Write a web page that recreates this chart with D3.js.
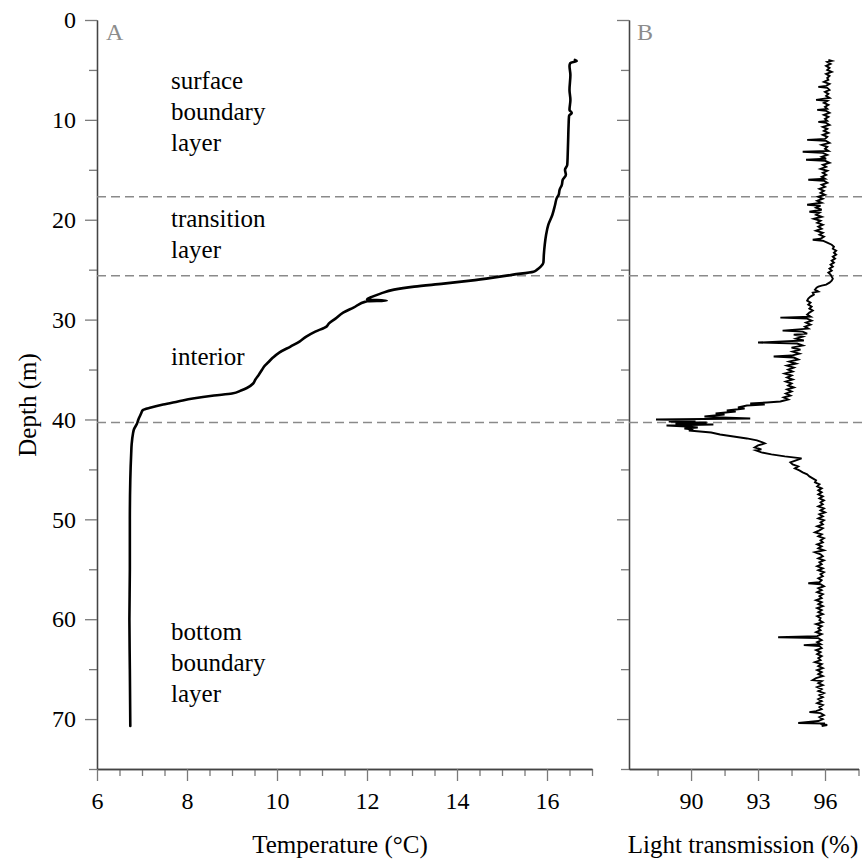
<!DOCTYPE html>
<html>
<head>
<meta charset="utf-8">
<script src="https://cdn.jsdelivr.net/npm/d3@7"></script>
<style>
  html, body { margin: 0; padding: 0; background: #fff; }
  svg { display: block; font-family: "Liberation Serif", "Times New Roman", serif; }
</style>
</head>
<body>
<svg id="chart" width="864" height="861"></svg>
<script>
// Temperature profile: [depth (m), temperature (°C)]
const temperatureProfile = [
  [4.0,16.62],[4.1,16.66],[4.3,16.52],[4.6,16.5],[5.5,16.52],[7.0,16.5],[8.0,16.52],
  [9.0,16.5],[9.3,16.55],[9.6,16.49],[10.5,16.48],[12.0,16.47],[13.5,16.46],[14.5,16.45],
  [15.0,16.4],[15.5,16.42],[16.0,16.35],[16.5,16.33],[17.0,16.28],[17.5,16.26],[17.8,16.22],
  [18.5,16.18],[19.5,16.12],[20.5,16.03],[21.5,15.98],[22.5,15.95],[23.5,15.93],[24.3,15.92],
  [24.7,15.86],[25.0,15.78],[25.2,15.7],[25.5,15.25],[25.8,14.8],[26.1,14.3],[26.4,13.7],
  [26.7,13.05],[27.0,12.6],[27.4,12.3],[27.7,12.12],[28.0,12.0],[28.1,12.44],[28.15,12.0],
  [28.8,11.7],[29.3,11.47],[29.9,11.3],[30.4,11.15],[30.7,11.1],[31.2,10.85],[31.7,10.65],
  [32.2,10.5],[32.7,10.3],[33.3,10.05],[33.8,9.91],[34.3,9.8],[34.6,9.73],[35.0,9.67],
  [35.5,9.6],[36.0,9.52],[36.4,9.47],[36.85,9.33],[37.1,9.2],[37.4,9.0],[37.6,8.6],
  [37.9,8.13],[38.2,7.8],[38.5,7.47],[38.8,7.2],[39.05,7.02],[39.4,6.98],[39.6,6.96],
  [40.0,6.92],[40.4,6.89],[41.0,6.82],[41.4,6.8],[42.5,6.77],[43.4,6.76],[46.0,6.74],
  [50.0,6.73],[55.0,6.73],[60.0,6.72],[65.0,6.73],[70.7,6.74]
];

// Light transmission profile: [depth (m), transmission (%)]
const transmissionProfile = [
  [4.0,96.15],[4.1,96.3],[4.2,96.1],[4.4,96.25],[4.6,96.05],[4.8,96.2],[5.0,96.1],[5.2,96.3],
  [5.4,96.05],[5.6,96.2],[5.8,96.1],[6.0,96.15],[6.2,95.95],[6.4,96.2],[6.6,96.05],[6.7,95.7],
  [6.8,96.1],[7.0,96.2],[7.2,96.0],[7.4,96.15],[7.6,96.05],[7.8,96.2],[8.0,95.6],[8.1,96.1],
  [8.3,95.95],[8.5,96.15],[8.7,96.0],[8.9,96.1],[9.0,95.65],[9.1,96.05],[9.3,96.2],[9.5,95.95],
  [9.7,96.15],[9.9,96.0],[10.1,96.1],[10.2,95.7],[10.3,96.05],[10.5,96.2],[10.7,95.9],[10.9,96.1],
  [11.1,95.95],[11.3,96.15],[11.5,95.9],[11.7,96.1],[11.9,96.0],[12.0,95.2],[12.1,96.05],[12.3,96.2],
  [12.5,95.85],[12.7,96.1],[12.9,96.0],[13.1,96.15],[13.2,95.0],[13.3,95.9],[13.5,96.1],[13.7,95.85],
  [13.9,96.05],[14.0,95.15],[14.1,96.0],[14.3,96.2],[14.5,95.9],[14.7,96.05],[14.9,95.8],[15.1,96.1],
  [15.3,95.9],[15.5,96.05],[15.7,95.85],[15.9,96.0],[16.0,95.25],[16.1,95.95],[16.3,96.1],[16.5,95.85],
  [16.7,96.0],[16.9,95.75],[17.1,95.95],[17.3,95.8],[17.5,96.0],[17.7,95.7],[17.9,95.9],[18.1,95.65],
  [18.3,95.85],[18.5,95.2],[18.6,95.8],[18.8,95.6],[19.0,95.85],[19.2,95.3],[19.3,95.75],[19.5,95.6],
  [19.7,95.85],[19.9,95.5],[20.1,95.8],[20.3,95.65],[20.5,95.9],[20.7,95.7],[20.9,95.85],[21.1,95.6],
  [21.3,95.9],[21.5,95.75],[21.7,95.95],[21.9,95.8],[22.0,95.45],[22.1,95.9],[22.3,96.1],[22.5,96.3],
  [22.7,96.4],[22.9,96.35],[23.1,96.5],[23.3,96.4],[23.5,96.5],[23.7,96.35],[23.9,96.45],[24.1,96.3],
  [24.3,96.4],[24.5,96.25],[24.7,96.35],[24.9,96.2],[25.1,96.3],[25.3,96.15],[25.5,96.25],[25.7,96.3],
  [25.9,96.35],[26.1,96.3],[26.3,96.2],[26.5,96.05],[26.6,95.85],[26.7,95.7],[26.8,95.62],[27.0,95.55],
  [27.2,95.7],[27.3,95.45],[27.5,95.5],[27.7,95.35],[27.9,95.25],[28.1,95.2],[28.3,95.35],[28.5,95.25],
  [28.7,95.4],[28.9,95.3],[29.1,95.45],[29.3,95.3],[29.5,95.2],[29.7,95.35],[29.8,94.0],[29.9,95.2],
  [30.1,95.4],[30.3,95.15],[30.5,95.35],[30.7,95.1],[30.9,95.25],[31.1,94.1],[31.2,95.0],[31.4,95.2],
  [31.5,94.6],[31.7,95.0],[31.9,94.7],[32.1,95.05],[32.3,93.0],[32.4,94.75],[32.6,95.0],[32.8,94.5],
  [33.0,94.9],[33.2,94.55],[33.4,94.85],[33.6,94.5],[33.7,93.7],[33.8,94.6],[34.0,94.8],[34.2,94.4],
  [34.4,94.7],[34.6,94.3],[34.8,94.6],[35.0,94.35],[35.2,94.55],[35.4,94.2],[35.6,94.5],[35.8,94.3],
  [36.0,94.55],[36.2,94.25],[36.4,94.5],[36.6,94.35],[36.8,94.6],[37.0,94.3],[37.2,94.5],[37.4,94.25],
  [37.6,94.45],[37.8,94.15],[38.0,94.35],[38.2,94.0],[38.3,93.4],[38.4,92.65],[38.5,93.3],[38.6,92.5],
  [38.8,92.1],[38.9,92.4],[39.1,91.6],[39.2,92.0],[39.4,91.1],[39.5,91.5],[39.7,90.6],[39.8,91.4],
  [39.9,92.65],[40.0,88.43],[40.1,90.2],[40.2,89.0],[40.3,90.7],[40.4,89.3],[40.5,91.0],[40.6,88.9],
  [40.7,89.8],[40.8,90.3],[40.9,89.7],[41.0,90.1],[41.1,89.9],[41.2,90.4],[41.3,90.9],[41.5,91.3],
  [41.7,91.9],[41.9,92.5],[42.1,92.95],[42.3,93.2],[42.4,93.3],[42.6,93.0],[42.8,92.85],[43.0,93.15],
  [43.1,92.9],[43.3,93.15],[43.5,93.6],[43.7,94.2],[43.9,94.95],[44.1,94.7],[44.3,94.45],[44.5,94.55],
  [44.7,94.8],[44.9,94.65],[45.1,94.85],[45.3,95.0],[45.5,95.2],[45.7,95.3],[45.9,95.45],[46.1,95.6],
  [46.3,95.55],[46.5,95.75],[46.7,95.65],[46.9,95.85],[47.1,95.7],[47.3,95.85],[47.5,95.7],[47.7,95.9],
  [47.9,95.75],[48.1,95.95],[48.3,95.8],[48.5,95.9],[48.7,95.7],[48.9,95.95],[49.1,95.8],[49.3,96.0],
  [49.5,95.75],[49.7,95.9],[49.9,95.7],[50.1,95.95],[50.3,95.8],[50.5,95.9],[50.7,95.65],[50.9,95.9],
  [51.1,95.75],[51.3,95.55],[51.5,95.85],[51.7,95.7],[51.9,95.95],[52.1,95.8],[52.3,95.9],[52.5,95.65],
  [52.7,95.85],[52.9,95.7],[53.1,95.95],[53.3,95.55],[53.5,95.8],[53.7,95.9],[53.9,95.7],[54.1,95.95],
  [54.3,95.75],[54.5,95.85],[54.7,95.65],[54.9,95.9],[55.1,95.7],[55.3,95.95],[55.5,95.8],[55.7,95.9],
  [55.9,95.7],[56.1,95.85],[56.3,95.75],[56.4,95.25],[56.5,95.8],[56.7,95.95],[56.9,95.7],[57.1,95.85],
  [57.3,95.65],[57.5,95.9],[57.7,95.75],[57.9,95.85],[58.1,95.6],[58.3,95.85],[58.5,95.7],[58.7,95.9],
  [58.9,95.65],[59.1,95.85],[59.3,95.7],[59.5,95.9],[59.7,95.65],[59.9,95.8],[60.1,95.75],[60.3,95.9],
  [60.5,95.6],[60.7,95.85],[60.9,95.7],[61.1,95.8],[61.3,95.6],[61.5,95.85],[61.7,95.65],[61.8,93.9],
  [61.9,95.7],[62.1,95.85],[62.3,95.65],[62.5,95.8],[62.6,95.05],[62.7,95.75],[62.9,95.85],[63.1,95.6],
  [63.3,95.8],[63.5,95.65],[63.7,95.85],[63.9,95.7],[64.1,95.8],[64.3,95.55],[64.5,95.85],[64.7,95.7],
  [64.9,95.9],[65.1,95.65],[65.3,95.85],[65.5,95.7],[65.7,95.9],[65.9,95.6],[66.1,95.45],[66.2,95.85],
  [66.4,95.7],[66.6,95.9],[66.8,95.65],[67.0,95.85],[67.2,95.7],[67.4,95.95],[67.6,95.75],[67.8,95.9],
  [68.0,95.7],[68.2,95.85],[68.4,95.65],[68.6,95.9],[68.8,95.75],[69.0,95.85],[69.2,95.6],[69.3,95.3],
  [69.4,95.8],[69.6,95.95],[69.8,95.75],[70.0,95.9],[70.2,95.7],[70.4,94.8],[70.45,96.0],[70.5,95.8],
  [70.6,96.1],[70.7,95.85]
];

// Layer boundaries (m)
const layerBoundaries = [17.7, 25.6, 40.3];

// Layer annotations: lines of text and the depth of the first line's baseline
const layerLabels = [
  { lines: ["surface", "boundary", "layer"], depth: 6.9 },
  { lines: ["transition", "layer"], depth: 20.7 },
  { lines: ["interior"], depth: 34.55 },
  { lines: ["bottom", "boundary", "layer"], depth: 62.1 }
];

const depthTicks = d3.range(0, 80, 5);
const tempTicks = d3.range(6, 17.01, 0.5);
const transTicks = [88.5, 90, 91.5, 93, 94.5, 96, 97.5];

const svg = d3.select("#chart");

const y = d3.scaleLinear().domain([0, 75]).range([20, 769]);
const xA = d3.scaleLinear().domain([6, 17]).range([97, 592]);
const xB = d3.scaleLinear().domain([87.22, 97.5]).range([629, 858.5]);

const axisColor = "#444";
const tickColor = "#7a7a7a";
const fontSize = 24;

function styleAxis(g) {
  g.select(".domain").attr("stroke", axisColor).attr("stroke-width", 1.3);
  g.selectAll(".tick line").attr("stroke", tickColor).attr("stroke-width", 1.3);
  g.selectAll(".tick text").attr("fill", "#000").attr("font-size", fontSize)
    .attr("font-family", "Liberation Serif, Times New Roman, serif");
}

function isMajor(v, step) { return Math.abs(v / step - Math.round(v / step)) < 1e-6; }

function drawDepthAxis(xPos, withLabels) {
  const minor = svg.append("g").attr("transform", `translate(${xPos},0)`)
    .call(d3.axisLeft(y).tickValues(depthTicks.filter(d => !isMajor(d, 10)))
      .tickSize(8).tickSizeOuter(0).tickFormat(""));
  styleAxis(minor);
  const major = svg.append("g").attr("transform", `translate(${xPos},0)`)
    .call(d3.axisLeft(y).tickValues(depthTicks.filter(d => isMajor(d, 10)))
      .tickSize(12).tickSizeOuter(0).tickPadding(9)
      .tickFormat(withLabels ? d3.format("d") : ""));
  styleAxis(major);
}

function drawValueAxis(scale, ticks, labelled) {
  const minor = svg.append("g").attr("transform", `translate(0,${y(75)})`)
    .call(d3.axisBottom(scale).tickValues(ticks.filter(t => !labelled(t)))
      .tickSize(7).tickSizeOuter(0).tickFormat(""));
  styleAxis(minor);
  const major = svg.append("g").attr("transform", `translate(0,${y(75)})`)
    .call(d3.axisBottom(scale).tickValues(ticks.filter(t => labelled(t)))
      .tickSize(12).tickSizeOuter(0).tickPadding(11).tickFormat(d3.format("d")));
  styleAxis(major);
}

drawDepthAxis(xA(6), true);
drawDepthAxis(xB(87.22), false);
drawValueAxis(xA, tempTicks, t => isMajor(t, 2));
drawValueAxis(xB, transTicks, t => isMajor(t, 3));

// Layer boundary lines across both panels
svg.append("g").selectAll("line").data(layerBoundaries).join("line")
  .attr("x1", xA(6)).attr("x2", 864)
  .attr("y1", d => y(d)).attr("y2", d => y(d))
  .attr("stroke", "#8a8a8a").attr("stroke-width", 1.5)
  .attr("stroke-dasharray", "9,5");

// Profiles
svg.append("path").datum(temperatureProfile)
  .attr("fill", "none").attr("stroke", "#000").attr("stroke-width", 2.6)
  .attr("stroke-linejoin", "round").attr("stroke-linecap", "round")
  .attr("d", d3.line().curve(d3.curveMonotoneY).x(d => xA(d[1])).y(d => y(d[0])));

svg.append("path").datum(transmissionProfile)
  .attr("fill", "none").attr("stroke", "#000").attr("stroke-width", 1.9)
  .attr("stroke-linejoin", "miter")
  .attr("d", d3.line().x(d => xB(d[1])).y(d => y(d[0])));

// Layer annotations
const ann = svg.append("g").attr("font-size", 25).attr("fill", "#000");
layerLabels.forEach(l => {
  l.lines.forEach((line, i) => {
    ann.append("text").attr("x", 171).attr("y", y(l.depth) + i * 31).text(line);
  });
});

// Panel letters
svg.append("text").attr("x", 106).attr("y", 40).attr("font-size", 24).attr("fill", "#8c8c8c").text("A");
svg.append("text").attr("x", 637).attr("y", 40).attr("font-size", 24).attr("fill", "#8c8c8c").text("B");

// Axis titles
svg.append("text").attr("x", 340).attr("y", 853).attr("text-anchor", "middle")
  .attr("font-size", 25).text("Temperature (°C)");
svg.append("text").attr("x", 743).attr("y", 853).attr("text-anchor", "middle")
  .attr("font-size", 25).text("Light transmission (%)");
svg.append("text").attr("transform", "translate(36,405) rotate(-90)")
  .attr("text-anchor", "middle").attr("font-size", 25).text("Depth (m)");
</script>
</body>
</html>
